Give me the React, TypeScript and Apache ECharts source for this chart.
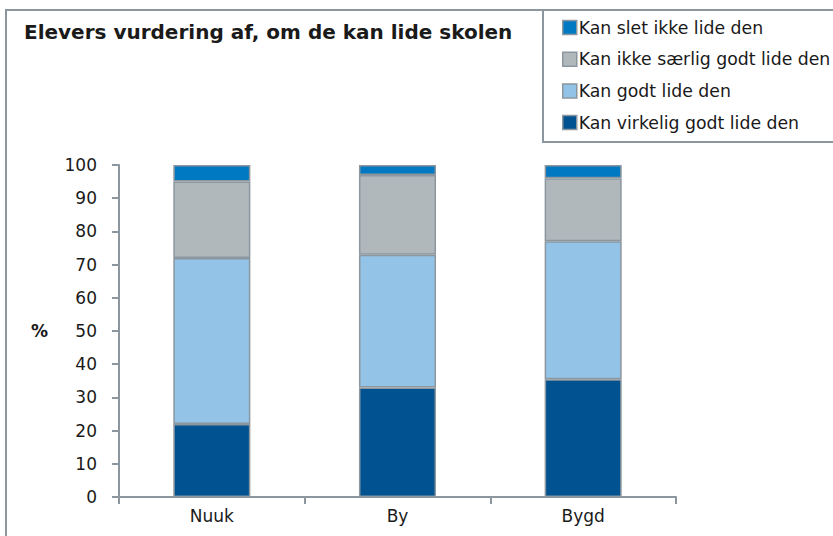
import React, { useEffect, useRef } from "react";
import * as echarts from "echarts";

const categories = ["Nuuk", "By", "Bygd"];
const seriesNames = [
  "Kan virkelig godt lide den",
  "Kan godt lide den",
  "Kan ikke særlig godt lide den",
  "Kan slet ikke lide den",
];
const virkeligGodt = [22, 33, 35.5];
const godt = [50, 40, 41.5];
const ikkeSaerlig = [23, 24, 19];
const sletIkke = [5, 3, 4];
const yTicks = [0, 10, 20, 30, 40, 50, 60, 70, 80, 90, 100];
const colors = ["#005291", "#93c4e7", "#b1b8bc", "#0079c2"];
const title = "Elevers vurdering af, om de kan lide skolen";

const FONT = "DejaVu Sans, Verdana, sans-serif";
const GRAY = "#8c969e";

export default function App() {
  const ref = useRef<HTMLDivElement>(null);
  useEffect(() => {
    if (!ref.current) return;
    const chart = echarts.init(ref.current, null, { renderer: "svg" });
    const data = [virkeligGodt, godt, ikkeSaerlig, sletIkke];
    chart.setOption({
      animation: false,
      backgroundColor: "#ffffff",
      title: {
        text: title,
        left: 19,
        top: 17,
        textStyle: { fontFamily: FONT, fontSize: 20, fontWeight: "bold", color: "#1a1a1a" },
      },
      legend: {
        orient: "vertical",
        left: 557,
        top: 14,
        itemWidth: 14,
        itemHeight: 14,
        itemGap: 14.7,
        icon: "rect",
        data: [...seriesNames].reverse(),
        textStyle: { fontFamily: FONT, fontSize: 17.3, color: "#1a1a1a", padding: [0, 0, 0, -3] },
        itemStyle: { borderColor: GRAY, borderWidth: 1.5 },
      },
      graphic: [
        {
          type: "rect",
          shape: { x: 6, y: 10, width: 900, height: 700 },
          style: { fill: "none", stroke: GRAY, lineWidth: 2 },
          silent: true,
        },
        {
          type: "rect",
          shape: { x: 543, y: 10, width: 400, height: 132 },
          style: { fill: "none", stroke: GRAY, lineWidth: 2 },
          silent: true,
        },
      ],
      grid: { left: 119, right: 157, top: 165, bottom: 39, containLabel: false },
      xAxis: {
        type: "category",
        data: categories,
        axisLine: { lineStyle: { color: GRAY, width: 2 } },
        axisTick: { show: true, length: 7, lineStyle: { color: GRAY, width: 2 } },
        axisLabel: { fontFamily: FONT, fontSize: 17, color: "#1a1a1a", margin: 10 },
      },
      yAxis: {
        type: "value",
        min: yTicks[0],
        max: yTicks[yTicks.length - 1],
        interval: 10,
        name: "%",
        nameLocation: "middle",
        nameRotate: 0,
        nameGap: 71,
        nameTextStyle: { fontFamily: FONT, fontSize: 17, fontWeight: "bold", color: "#1a1a1a" },
        axisLine: { show: true, lineStyle: { color: GRAY, width: 2 } },
        axisTick: { show: true, length: 7, lineStyle: { color: GRAY, width: 2 } },
        splitLine: { show: false },
        axisLabel: { fontFamily: FONT, fontSize: 17, color: "#1a1a1a", margin: 22 },
      },
      series: seriesNames.map((name, i) => ({
        name,
        type: "bar",
        stack: "total",
        barWidth: "41.5%",
        data: data[i],
        itemStyle: { color: colors[i], borderColor: GRAY, borderWidth: 1.5 },
      })),
    });
    return () => chart.dispose();
  }, []);
  return (
    <div
      ref={ref}
      style={{ position: "fixed", left: 0, top: 0, width: 833, height: 536 }}
    />
  );
}
